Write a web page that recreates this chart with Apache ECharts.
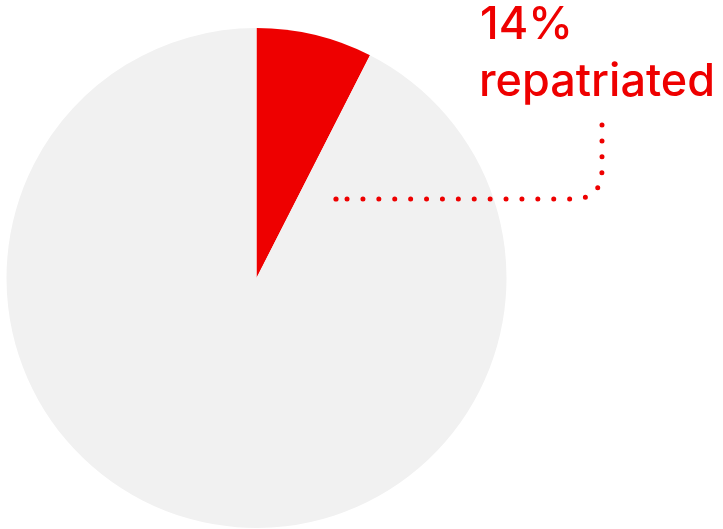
<!DOCTYPE html>
<html>
<head>
<meta charset="utf-8">
<script src="https://cdn.jsdelivr.net/npm/echarts@6/dist/echarts.min.js"></script>
<style>
html,body{margin:0;padding:0;background:#fff;}
#c{width:723px;height:529px;}
</style>
</head>
<body>
<div id="c"></div>
<script>
const categories = ['Repatriated', 'Other'];
const values = [7.5, 92.5];
const colors = ['#ee0000', '#f1f1f1'];
const labelLines = ['14%', 'repatriated'];

// leader line with rounded corner (annotation)
function leaderPoints() {
  const pts = [[602, 125], [602, 170]];
  const p0 = [602, 170], c = [602, 199], p1 = [573, 199];
  for (let i = 1; i <= 12; i++) {
    const t = i / 12, u = 1 - t;
    pts.push([u*u*p0[0] + 2*u*t*c[0] + t*t*p1[0], u*u*p0[1] + 2*u*t*c[1] + t*t*p1[1]]);
  }
  pts.push([340, 199]);
  return pts;
}

const chart = echarts.init(document.getElementById('c'), null, {renderer: 'canvas'});
chart.setOption({
  animation: false,
  series: [{
    type: 'pie',
    center: [256.5, 278],
    radius: [0, 250],
    startAngle: 90,
    clockwise: true,
    label: {show: false},
    labelLine: {show: false},
    emphasis: {disabled: true},
    itemStyle: {borderWidth: 0},
    data: categories.map((c, i) => ({name: c, value: values[i], itemStyle: {color: colors[i]}}))
  }],
  graphic: [
    {
      type: 'polyline', z: 10,
      shape: {points: leaderPoints()},
      style: {fill: null, stroke: '#ee0000', lineWidth: 5, lineCap: 'round', lineDash: [0, 15.9]}
    },
    {
      type: 'circle', z: 10,
      shape: {cx: 336, cy: 199, r: 2.6},
      style: {fill: '#ee0000'}
    },
    {
      type: 'text', z: 10, x: 480, y: 25.5,
      style: {text: labelLines[0], fill: '#ee0000', font: '500 45px Inter', verticalAlign: 'middle', align: 'left'}
    },
    {
      type: 'text', z: 10, x: 479, y: 82.5,
      style: {text: labelLines[1], fill: '#ee0000', font: '500 45px Inter', verticalAlign: 'middle', align: 'left'}
    }
  ]
});
</script>
</body>
</html>
